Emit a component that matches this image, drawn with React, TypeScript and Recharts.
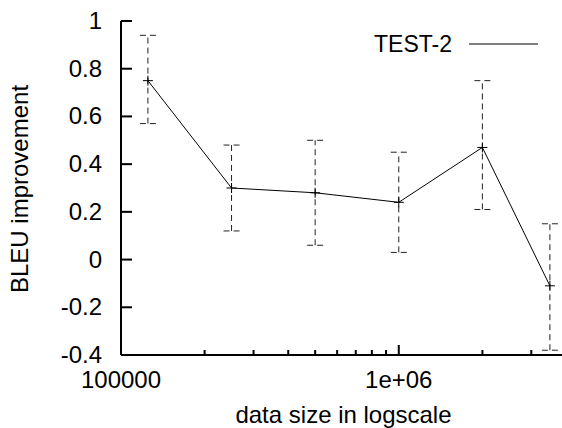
import { ComposedChart, Line, ErrorBar, XAxis, YAxis, Customized, Label } from 'recharts'

const sizes = [125000, 250000, 500000, 1000000, 2000000, 3500000]
const bleu = [0.75, 0.3, 0.28, 0.24, 0.47, -0.11]
const lower = [0.57, 0.12, 0.06, 0.03, 0.21, -0.38]
const upper = [0.94, 0.48, 0.5, 0.45, 0.75, 0.15]

const xMajor = [100000, 1000000]
const xTicks = [
  100000, 200000, 300000, 400000, 500000, 600000, 700000, 800000, 900000,
  1000000, 2000000, 3000000,
]
const xLabels: Record<number, string> = { 100000: '100000', 1000000: '1e+06' }
const yTicks = [-0.4, -0.2, 0, 0.2, 0.4, 0.6, 0.8, 1]

const data = sizes.map((s, i) => ({
  size: s,
  bleu: bleu[i],
  err: [+(bleu[i] - lower[i]).toFixed(3), +(upper[i] - bleu[i]).toFixed(3)],
}))

const FONT = '"Liberation Sans", Arial, Helvetica, sans-serif'
const FS = 24

function BottomTick({ x, y, payload }: any) {
  const major = xMajor.includes(payload.value)
  return (
    <g>
      <line x1={x} x2={x} y1={y} y2={y - (major ? 10 : 5)} stroke="#000" strokeWidth={2} />
      {major && (
        <text x={x} y={y + 33} textAnchor="middle" fontFamily={FONT} fontSize={FS} fill="#000">
          {xLabels[payload.value]}
        </text>
      )}
    </g>
  )
}

function TopTick({ x, y, payload }: any) {
  const major = xMajor.includes(payload.value)
  return <line x1={x} x2={x} y1={y} y2={y + (major ? 10 : 5)} stroke="#000" strokeWidth={2} />
}

function LeftTick({ x, y, payload }: any) {
  return (
    <g>
      <line x1={x} x2={x + 11} y1={y} y2={y} stroke="#000" strokeWidth={2} />
      <text x={x - 19} y={y + 8} textAnchor="end" fontFamily={FONT} fontSize={FS} fill="#000">
        {String(payload.value)}
      </text>
    </g>
  )
}

function RightTick({ x, y }: any) {
  return <line x1={x} x2={x - 11} y1={y} y2={y} stroke="#000" strokeWidth={2} />
}

function PlusDot({ cx, cy }: any) {
  if (cx == null || cy == null) return null
  return (
    <g>
      <line x1={cx - 5} x2={cx + 5} y1={cy} y2={cy} stroke="#000" strokeWidth={1} />
      <line x1={cx} x2={cx} y1={cy - 5} y2={cy + 5} stroke="#000" strokeWidth={1} />
    </g>
  )
}

function KeyBox() {
  return (
    <g>
      <text x={452} y={52} textAnchor="end" fontFamily={FONT} fontSize={23} fill="#000">
        TEST-2
      </text>
      <line x1={469} x2={538} y1={44} y2={44} stroke="#000" strokeWidth={1} />
    </g>
  )
}

export default function App() {
  return (
    <div style={{ position: 'absolute', left: 0, top: 0, width: 562, height: 428, overflow: 'hidden', background: '#fff' }}>
      <ComposedChart
        width={570}
        height={428}
        data={data}
        margin={{ top: 21, right: 4, bottom: 0, left: 0 }}
      >
        <XAxis
          xAxisId="b"
          dataKey="size"
          type="number"
          scale="log"
          domain={[100000, 4000000]}
          allowDataOverflow
          ticks={xTicks}
          interval={0}
          height={73}
          tickSize={0}
          tickMargin={0}
          tickLine={false}
          axisLine={{ stroke: '#000', strokeWidth: 2 }}
          tick={<BottomTick />}
        >
          <Label
            content={() => (
              <text x={343.5} y={423} textAnchor="middle" fontFamily={FONT} fontSize={FS} fill="#000">
                data size in logscale
              </text>
            )}
          />
        </XAxis>
        <XAxis
          xAxisId="t"
          orientation="top"
          dataKey="size"
          type="number"
          scale="log"
          domain={[100000, 4000000]}
          allowDataOverflow
          ticks={xTicks}
          interval={0}
          height={0}
          tickSize={0}
          tickMargin={0}
          tickLine={false}
          axisLine={{ stroke: '#000', strokeWidth: 2 }}
          tick={<TopTick />}
        />
        <YAxis
          yAxisId="l"
          type="number"
          domain={[-0.4, 1]}
          ticks={yTicks}
          interval={0}
          width={121}
          tickSize={0}
          tickMargin={0}
          tickLine={false}
          axisLine={{ stroke: '#000', strokeWidth: 2 }}
          tick={<LeftTick />}
        >
          <Label
            content={() => (
              <text
                x={28}
                y={189}
                transform="rotate(-90, 28, 189)"
                textAnchor="middle"
                fontFamily={FONT}
                fontSize={FS}
                fill="#000"
              >
                BLEU improvement
              </text>
            )}
          />
        </YAxis>
        <YAxis
          yAxisId="r"
          orientation="right"
          type="number"
          domain={[-0.4, 1]}
          ticks={yTicks}
          interval={0}
          width={0}
          tickSize={0}
          tickMargin={0}
          tickLine={false}
          axisLine={{ stroke: '#000', strokeWidth: 2 }}
          tick={<RightTick />}
        />
        <Line
          xAxisId="b"
          yAxisId="l"
          type="linear"
          dataKey="bleu"
          stroke="#000"
          strokeWidth={1}
          dot={<PlusDot />}
          activeDot={false}
          isAnimationActive={false}
        >
          <ErrorBar
            dataKey="err"
            direction="y"
            width={8}
            stroke="#222"
            strokeWidth={1}
            strokeDasharray="6 4"
          />
        </Line>
        <Customized component={KeyBox} />
      </ComposedChart>
    </div>
  )
}
